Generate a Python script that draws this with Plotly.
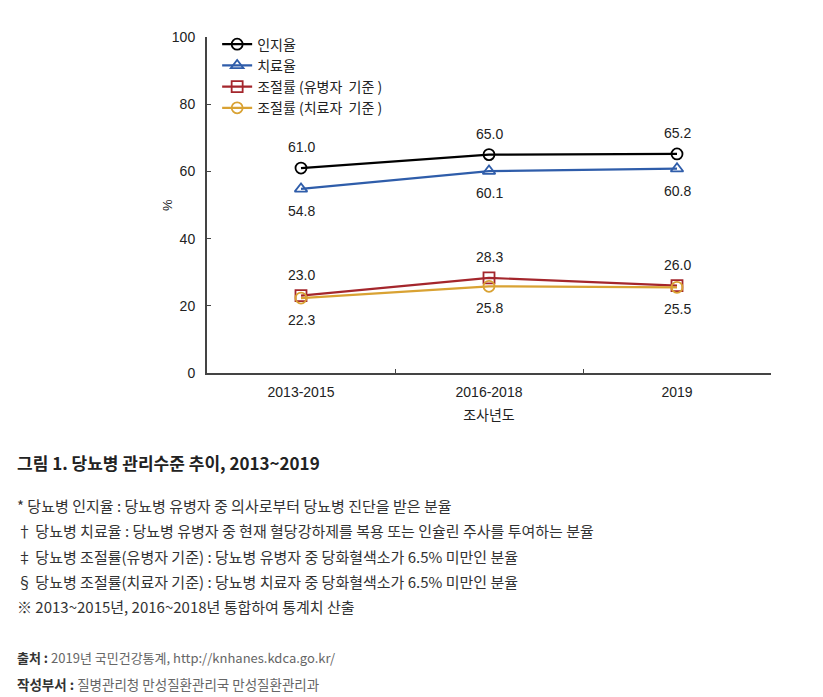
import plotly.graph_objects as go

categories = ["2013-2015", "2016-2018", "2019"]
awareness = [61.0, 65.0, 65.2]
treatment = [54.8, 60.1, 60.8]
control_prev = [23.0, 28.3, 26.0]
control_treat = [22.3, 25.8, 25.5]

series_names = ["인지율", "치료율", "조절률 (유병자  기준 )", "조절률 (치료자  기준 )"]
y_ticks = [0, 20, 40, 60, 80, 100]

title_text = "그림 1. 당뇨병 관리수준 추이, 2013~2019"
notes = [
    "* 당뇨병 인지율 : 당뇨병 유병자 중 의사로부터 당뇨병 진단을 받은 분율",
    "† 당뇨병 치료율 : 당뇨병 유병자 중 현재 혈당강하제를 복용 또는 인슐린 주사를 투여하는 분율",
    "‡ 당뇨병 조절률(유병자 기준) : 당뇨병 유병자 중 당화혈색소가 6.5% 미만인 분율",
    "§ 당뇨병 조절률(치료자 기준) : 당뇨병 치료자 중 당화혈색소가 6.5% 미만인 분율",
    "※ 2013~2015년, 2016~2018년 통합하여 통계치 산출",
]
source_label = "출처 :"
source_text = " 2019년 국민건강통계, http://knhanes.kdca.go.kr/"
dept_label = "작성부서 :"
dept_text = " 질병관리청 만성질환관리국 만성질환관리과"

KR = "Noto Sans CJK KR"
NUM = "Liberation Sans, Arial, sans-serif"

# page offset (body margin) compensation
OFF = 8
L, T = 207 - OFF, 37 - OFF
PW, PH = 564, 336

fig = go.Figure()

specs = [
    (awareness, series_names[0], "#000000", "circle-open", 21),
    (treatment, series_names[1], "#2F5DAA", "triangle-up-open", -22),
    (control_prev, series_names[2], "#A4262C", "square-open", 21),
    (control_treat, series_names[3], "#D9A233", "circle-open", -22),
]
for vals, name, color, sym, shift in specs:
    fig.add_trace(go.Scatter(
        x=categories, y=vals, name=name, mode="lines+markers",
        line=dict(color=color, width=2.2),
        marker=dict(symbol=sym, size=11, color=color, line=dict(width=1.8, color=color)),
        cliponaxis=False,
    ))
    for i, v in enumerate(vals):
        fig.add_annotation(x=i, y=v, xref="x", yref="y", text=f"{v:.1f}",
                           showarrow=False, yshift=shift, yanchor="middle",
                           font=dict(family=NUM, size=14, color="#222"))

fig.update_layout(
    width=823, height=697,
    margin=dict(l=L, r=823 - L - PW, t=T, b=697 - T - PH),
    paper_bgcolor="white", plot_bgcolor="white",
    showlegend=True,
    legend=dict(x=0.018, y=1.025, xanchor="left", yanchor="top",
                bgcolor="rgba(0,0,0,0)", font=dict(family=KR, size=14, color="#222"),
                itemwidth=30, tracegroupgap=0),
    xaxis=dict(type="category", range=[-0.5, 2.5], showline=True, linecolor="#444", linewidth=2,
               ticks="inside", tickcolor="#444", ticklen=4, tickson="boundaries",
               showgrid=False, zeroline=False, ticklabelstandoff=5,
               tickfont=dict(family=NUM, size=14, color="#222"),
               title=dict(text="조사년도", font=dict(family=KR, size=14, color="#222"), standoff=11)),
    yaxis=dict(range=[0, 100], tickvals=y_ticks, showline=True, linecolor="#444", linewidth=2,
               ticks="inside", tickcolor="#444", ticklen=4, showgrid=False, zeroline=False,
               ticklabelstandoff=7,
               tickfont=dict(family=NUM, size=14, color="#222")),
)

# y-axis title "%"
fig.add_annotation(text="%", xref="paper", yref="paper",
                   x=-(L - (167 - OFF)) / PW, y=(T + PH - (205 - OFF)) / PH,
                   xanchor="center", yanchor="middle", showarrow=False, textangle=-90,
                   font=dict(family=NUM, size=13, color="#222"))

def ann(text, y_px, size=13, color="#333"):
    fig.add_annotation(text=text, xref="paper", yref="paper",
                       x=-(L - (15 - OFF)) / PW, y=(T + PH - (y_px - OFF)) / PH,
                       xanchor="left", yanchor="middle", showarrow=False,
                       font=dict(family=KR, size=size, color=color), align="left")

ann(f"<b>{title_text}</b>", 462, size=17, color="#222")
note_y = [505, 530, 556, 581, 606]
for t, yy in zip(notes, note_y):
    ann(t, yy, size=15, color="#333")
ann(f"<b>{source_label}</b><span style='color:#666'>{source_text}</span>", 657, size=13, color="#333")
ann(f"<b>{dept_label}</b><span style='color:#666'>{dept_text}</span>", 684, size=13.5, color="#333")

fig.write_html("out.html")
